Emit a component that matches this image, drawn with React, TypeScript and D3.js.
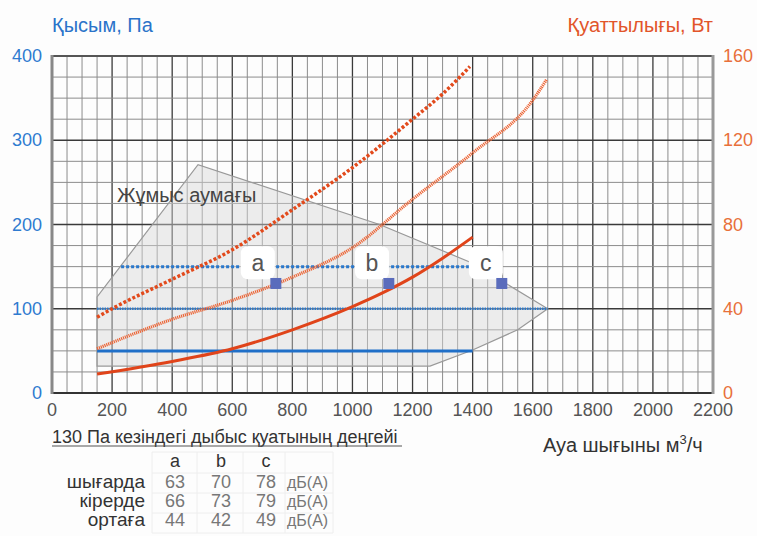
import React from 'react';
import * as d3 from 'd3';

// air flow, m3/h -> power, W (right axis)
const powerSolid: [number, number][] = [
  [150, 9], [400, 15], [600, 21], [800, 30], [1000, 41], [1100, 47.5], [1200, 55], [1300, 64], [1400, 74],
];
const powerDotted: [number, number][] = [
  [150, 36], [200, 40], [400, 54], [600, 68], [800, 87], [1000, 107], [1200, 130], [1300, 142], [1391, 155],
];
const powerLight: [number, number][] = [
  [150, 21], [400, 35], [600, 44], [800, 55], [1000, 69], [1200, 92], [1400, 114], [1600, 139], [1647, 149],
];

// pressure lines, Pa
const pressureLines = [
  { p: 150, from: 230, to: 1400, kind: 'dotted' },
  { p: 100, from: 150, to: 1650, kind: 'fine' },
  { p: 50, from: 150, to: 1400, kind: 'solid' },
];

// working area outline
const workArea: [number, number][] = [
  [150, 32], [150, 114], [486, 271], [1090, 200], [1400, 154], [1650, 100], [1550, 75], [1400, 51], [1258, 32],
];

const pointLabels = ['a', 'b', 'c'];
const labelFlow = [685, 1065, 1444];
const markerFlow = [745, 1121, 1497];
const markerPressure = 130;

const xTicks = d3.range(0, 2201, 200);
const yTicks = [0, 100, 200, 300, 400];
const yRTicks = [0, 40, 80, 120, 160];

const tableTitle = '130 Па кезіндегі дыбыс қуатының деңгейі';
const tableCols = ['a', 'b', 'c'];
const tableRows = ['шығарда', 'кірерде', 'ортаға'];
const tableValues = [
  [63, 70, 78],
  [66, 73, 79],
  [44, 42, 49],
];
const unit = 'дБ(А)';

const FONT = '"Liberation Sans", Arial, sans-serif';
const BLUE = '#2f7bd0';
const ORANGE = '#e2552a';

export default function App() {
  const W = 757, H = 536;
  const x = d3.scaleLinear().domain([0, 2200]).range([52, 713]);
  const y = d3.scaleLinear().domain([0, 400]).range([393, 56]);
  const yR = d3.scaleLinear().domain([0, 160]).range([393, 56]);

  const powerLine = d3.line<[number, number]>()
    .x(d => x(d[0]))
    .y(d => yR(d[1]))
    .curve(d3.curveMonotoneX);
  const areaPath = d3.line<[number, number]>()
    .x(d => x(d[0]))
    .y(d => y(d[1]))(workArea) + 'Z';

  const vMinor = d3.range(0, 2201, 50);
  const hMinor = d3.range(0, 401, 25);

  // table layout
  const colX = [175, 221, 266];
  const colEdges = [152, 197, 243, 285, 333];
  const rowLines = [452, 473, 493, 513, 533];
  const rowBase = [488, 507, 526];

  return (
    <div style={{ position: 'absolute', left: 0, top: 0 }}>
      <svg width={W} height={H} style={{ display: 'block', background: '#fdfdfd' }} fontFamily={FONT}>
        {/* grid */}
        {vMinor.map(v => (
          <line key={'v' + v} x1={x(v)} x2={x(v)} y1={y(400)} y2={y(0)}
            stroke={v % 200 === 0 ? '#3a3a3a' : '#8c8c8c'} strokeWidth={v % 200 === 0 ? 1.3 : 1} />
        ))}
        {hMinor.map(v => (
          <line key={'h' + v} x1={x(0)} x2={x(2200)} y1={y(v)} y2={y(v)}
            stroke={v % 100 === 0 ? '#3a3a3a' : '#8c8c8c'} strokeWidth={v % 100 === 0 ? 1.3 : 1} />
        ))}

        {/* working area */}
        <path d={areaPath} fill="#d8d8d8" fillOpacity={0.45} stroke="#999" strokeWidth={1.2} />
        <text x={117} y={202} fontSize={20} fill="#444">Жұмыс аумағы</text>

        {/* axes frame */}
        <line x1={x(0)} x2={x(2200)} y1={y(400)} y2={y(400)} stroke="#555" strokeWidth={2} />
        <line x1={x(0)} x2={x(2200)} y1={y(0)} y2={y(0)} stroke="#333" strokeWidth={2} />
        <line x1={x(0)} x2={x(0)} y1={y(400) - 1} y2={y(0) + 1} stroke="#888" strokeWidth={3} />
        <line x1={x(2200)} x2={x(2200)} y1={y(400) - 1} y2={y(0) + 1} stroke="#999" strokeWidth={3} />

        {/* pressure lines */}
        {pressureLines.map(l => (
          <line key={l.p} x1={x(l.from)} x2={x(l.to)} y1={y(l.p)} y2={y(l.p)}
            stroke={l.kind === 'solid' ? '#1f6fc8' : '#2a78cc'}
            strokeWidth={l.kind === 'solid' ? 3 : l.kind === 'dotted' ? 3 : 2.5}
            strokeDasharray={l.kind === 'solid' ? undefined : l.kind === 'dotted' ? '3,2' : '1.5,1'} />
        ))}

        {/* power curves */}
        <path d={powerLine(powerLight) || ''} fill="none" stroke="#ec6536" strokeWidth={3.2} strokeDasharray="1.2,0.8" />
        <path d={powerLine(powerDotted) || ''} fill="none" stroke="#e24a1c" strokeWidth={3.5} strokeDasharray="3,2" />
        <path d={powerLine(powerSolid) || ''} fill="none" stroke="#e0441a" strokeWidth={3} />

        {/* labels a b c */}
        {pointLabels.map((t, i) => (
          <g key={t} transform={`translate(${x(labelFlow[i])},${y(154)})`}>
            <rect x={-17} y={-17} width={34} height={33} rx={7} fill="#fff" />
            <text textAnchor="middle" y={8} fontSize={23} fill="#555">{t}</text>
          </g>
        ))}
        {markerFlow.map((f, i) => (
          <rect key={i} x={x(f) - 5.5} y={y(markerPressure) - 5.5} width={11} height={11} fill="#5a6cbc" />
        ))}

        {/* tick labels */}
        {yTicks.map(t => (
          <text key={'yl' + t} x={42} y={y(t) + 6} textAnchor="end" fontSize={18} fill={BLUE}>{t}</text>
        ))}
        {yRTicks.map(t => (
          <text key={'yr' + t} x={723} y={yR(t) + 6} fontSize={18} fill="#e8703a">{t}</text>
        ))}
        {xTicks.map(t => (
          <text key={'x' + t} x={x(t)} y={416} textAnchor="middle" fontSize={18} fill="#555">{t}</text>
        ))}

        {/* titles */}
        <text x={52} y={32} fontSize={20} fill="#2a73c9">Қысым, Па</text>
        <text x={713} y={32} textAnchor="end" fontSize={20} fill={ORANGE}>Қуаттылығы, Вт</text>
        <text x={543} y={452} fontSize={20} fill="#333">
          Ауа шығыны м<tspan fontSize={13} dy={-8}>3</tspan><tspan dy={8}>/ч</tspan>
        </text>

        {/* noise table */}
        <text x={52} y={443} fontSize={18} fill="#333">{tableTitle}</text>
        <line x1={52} x2={402} y1={446} y2={446} stroke="#555" strokeWidth={1.2} />
        {rowLines.map(r => (
          <line key={'rl' + r} x1={colEdges[0]} x2={colEdges[colEdges.length - 1]} y1={r} y2={r} stroke="#eee" />
        ))}
        {colEdges.map(c => (
          <line key={'cl' + c} x1={c} x2={c} y1={rowLines[0]} y2={rowLines[rowLines.length - 1]} stroke="#eee" />
        ))}
        {tableCols.map((c, i) => (
          <text key={'tc' + c} x={colX[i]} y={467} textAnchor="middle" fontSize={18} fill="#333">{c}</text>
        ))}
        {tableRows.map((r, ri) => (
          <g key={r}>
            <text x={145} y={rowBase[ri]} textAnchor="end" fontSize={19} fill="#333">{r}</text>
            {tableValues[ri].map((v, ci) => (
              <text key={ci} x={colX[ci]} y={rowBase[ri]} textAnchor="middle" fontSize={18} fill="#777">{v}</text>
            ))}
            <text x={287} y={rowBase[ri]} fontSize={16} fill="#777">{unit}</text>
          </g>
        ))}
      </svg>
    </div>
  );
}
